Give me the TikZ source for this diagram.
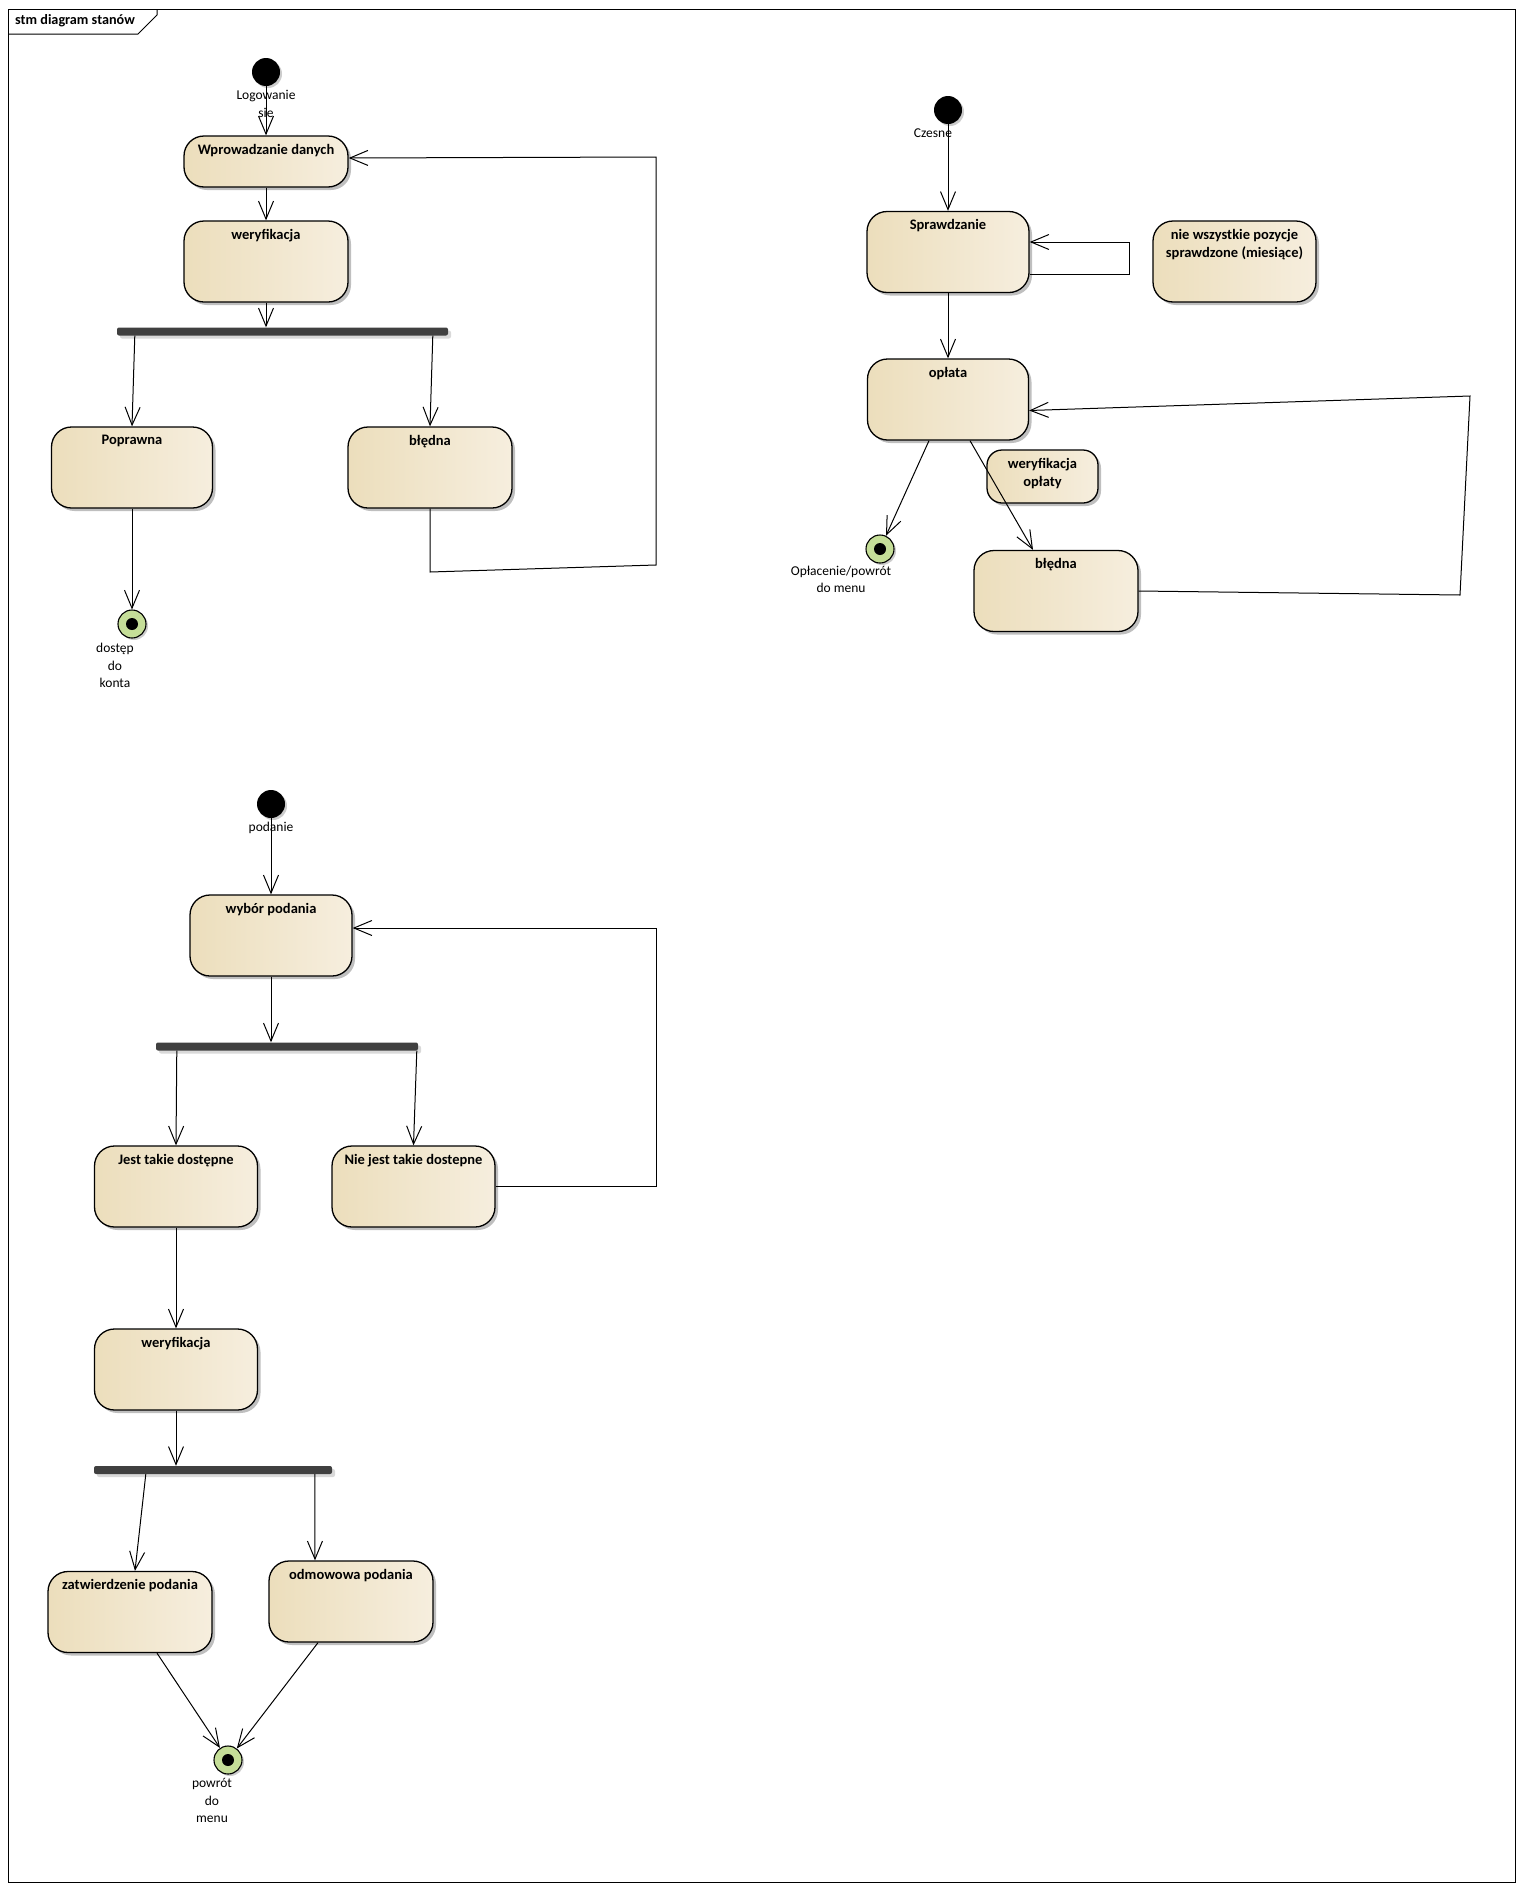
\documentclass[tikz,border=0pt]{standalone}
\usepackage{fontspec}
\setmainfont{Carlito}
\usetikzlibrary{arrows.meta,shadows,calc}

\definecolor{stL}{RGB}{236,222,188}
\definecolor{stR}{RGB}{246,238,222}
\definecolor{finG}{RGB}{197,222,152}
\definecolor{barC}{RGB}{64,64,64}

\begin{document}
\begin{tikzpicture}[x=1pt,y=-1pt,
  every node/.style={font=\fontsize{13.5}{17.5}\selectfont},
  state/.style={draw=black, line width=1.3pt, rounded corners=20pt,
    left color=stL, right color=stR, inner sep=0pt,
    minimum width=164pt, minimum height=81pt,
    drop shadow={shadow xshift=3pt, shadow yshift=-3pt, opacity=0.25, fill=black}},
  title/.style={font=\fontsize{14.5}{18.5}\selectfont\bfseries, anchor=center, inner sep=0pt, align=center},
  ttl/.style={label={[title, yshift=-15pt]north:#1}},
  ttltwo/.style={label={[title, yshift=-24pt]north:#1}},
  initial/.style={circle, fill=black, minimum size=28pt, inner sep=0pt,
    drop shadow={shadow xshift=2pt, shadow yshift=-2pt, opacity=0.2, fill=black}},
  final/.style={circle, draw=black, line width=1.1pt, fill=finG, minimum size=28pt, inner sep=0pt,
    path picture={\fill[black] (path picture bounding box.center) circle (6pt);},
    drop shadow={shadow xshift=2pt, shadow yshift=-2pt, opacity=0.2, fill=black}},
  bar/.style={fill=barC, rounded corners=2pt, minimum height=8pt, inner sep=0pt,
    drop shadow={shadow xshift=3pt, shadow yshift=-3pt, opacity=0.15, fill=black}},
  lbl/.style={inner sep=0pt, align=center, text=black},
  tr/.style={line width=1pt, -{Straight Barb[length=18pt, width=15pt, line width=1pt]}}
]
\useasboundingbox (0,0) rectangle (1523,1890);

% diagram frame with its name tab
\draw[line width=1pt] (8,9) rectangle (1515,1882);
\draw[line width=1pt] (8,34) -- (138,34) -- (157,15) -- (157,9);
\node[inner sep=0pt, anchor=west, font=\fontsize{14.2}{16}\selectfont\bfseries] (frame) at (15,21) {stm diagram stanów};

% ---------- logging in ----------
\node[initial] (i1) at (266,72) {};
\node[lbl] (l1) at (266,104) {Logowanie\\sie};
\node[state, minimum height=51pt, ttl=Wprowadzanie danych] (wd) at (266,161.5) {};
\node[state, ttl=weryfikacja] (wer1) at (266,261.5) {};
\node[bar, minimum width=331pt] (b1) at (282.5,331.5) {};
\node[state, minimum width=161pt, ttl=Poprawna] (pop) at (132,467.5) {};
\node[state, ttl=błędna] (bl1) at (430,467.5) {};
\node[final] (f1) at (132,624) {};
\node[lbl] (l2) at (115,665.5) {dostęp\\do\\konta};

\draw[tr] (i1) -- (wd.north);
\draw[tr] (wd.south) -- (wer1.north);
\draw[tr] (wer1.south) -- (wer1.south |- b1.north);
\draw[tr] ($(b1.south west)+(18,0)$) -- (pop.north);
\draw[tr] ($(b1.south west)+(316,0)$) -- (bl1.north);
\draw[tr] (pop.south) -- (f1);
\draw[tr] (bl1.south) -- (430,572) -- (656,565) -- (656,157) -- ($(wd.east)+(0,-3.5)$);

% ---------- tuition ----------
\node[initial] (i2) at (948,110) {};
\node[lbl] (l3) at (933,133) {Czesne};
\node[state, minimum width=162pt, ttl=Sprawdzanie] (spr) at (948,252) {};
\node[state, minimum width=163pt, ttltwo={nie wszystkie pozycje\\sprawdzone (miesiące)}] (nw) at (1234.5,261.5) {};
\node[state, minimum width=161pt, ttl=opłata] (opl) at (948,399.5) {};
\node[state, rounded corners=15pt, minimum width=111pt, minimum height=53pt, ttltwo={weryfikacja\\opłaty}] (wo) at (1042.5,476.5) {};
\node[state, ttl=błędna] (bl2) at (1056,591) {};
\node[final] (f2) at (880,549) {};
\node[lbl] (l4) at (841,579.5) {Opłacenie/powrót\\do menu};

\draw[tr] (i2) -- (spr.north);
\draw[tr] ($(spr.east)+(0,22)$) -- (1129,274) -- (1129,242) -- ($(spr.east)+(0,-10)$);
\draw[tr] (spr.south) -- (opl.north);
\draw[tr] ($(opl.south)+(-19,0)$) -- (f2);
\draw[tr] ($(opl.south)+(22,0)$) -- ($(bl2.north)+(-23,0)$);
\draw[tr] (bl2.east) -- (1460,595) -- (1470,396) -- ($(opl.east)+(0,11)$);

% ---------- applications ----------
\node[initial] (i3) at (271,804) {};
\node[lbl] (l5) at (271,828) {podanie};
\node[state, minimum width=162pt, ttl=wybór podania] (wyb) at (271,935.5) {};
\node[bar, minimum width=262pt] (b2) at (287,1046.5) {};
\node[state, minimum width=163pt, ttl=Jest takie dostępne] (jest) at (176,1186.5) {};
\node[state, minimum width=163pt, ttl=Nie jest takie dostepne] (nie) at (413.5,1186.5) {};
\node[state, minimum width=163pt, ttl=weryfikacja] (wer2) at (176,1369.5) {};
\node[bar, minimum width=238pt] (b3) at (213,1470) {};
\node[state, ttl=zatwierdzenie podania] (zat) at (130,1612) {};
\node[state, ttl=odmowowa podania] (odm) at (351,1601.5) {};
\node[final] (f3) at (228,1760) {};
\node[lbl] (l6) at (212,1800.5) {powrót\\do\\menu};

\draw[tr] (i3) -- (wyb.north);
\draw[tr] (wyb.south) -- (wyb.south |- b2.north);
\draw[tr] ($(b2.south west)+(21,0)$) -- (jest.north);
\draw[tr] ($(b2.south west)+(261,0)$) -- (nie.north);
\draw[tr] (nie.east) -- (656,1186.5) -- (656,928) -- ($(wyb.east)+(0,-7.5)$);
\draw[tr] (jest.south) -- (wer2.north);
\draw[tr] (wer2.south) -- (wer2.south |- b3.north);
\draw[tr] ($(b3.south west)+(52,0)$) -- ($(zat.north)+(5,0)$);
\draw[tr] ($(b3.south west)+(221,0)$) -- ($(odm.north)+(-36,0)$);
\draw[tr] ($(zat.south)+(27,0)$) -- (f3);
\draw[tr] ($(odm.south)+(-33,0)$) -- (f3);
\end{tikzpicture}
\end{document}
